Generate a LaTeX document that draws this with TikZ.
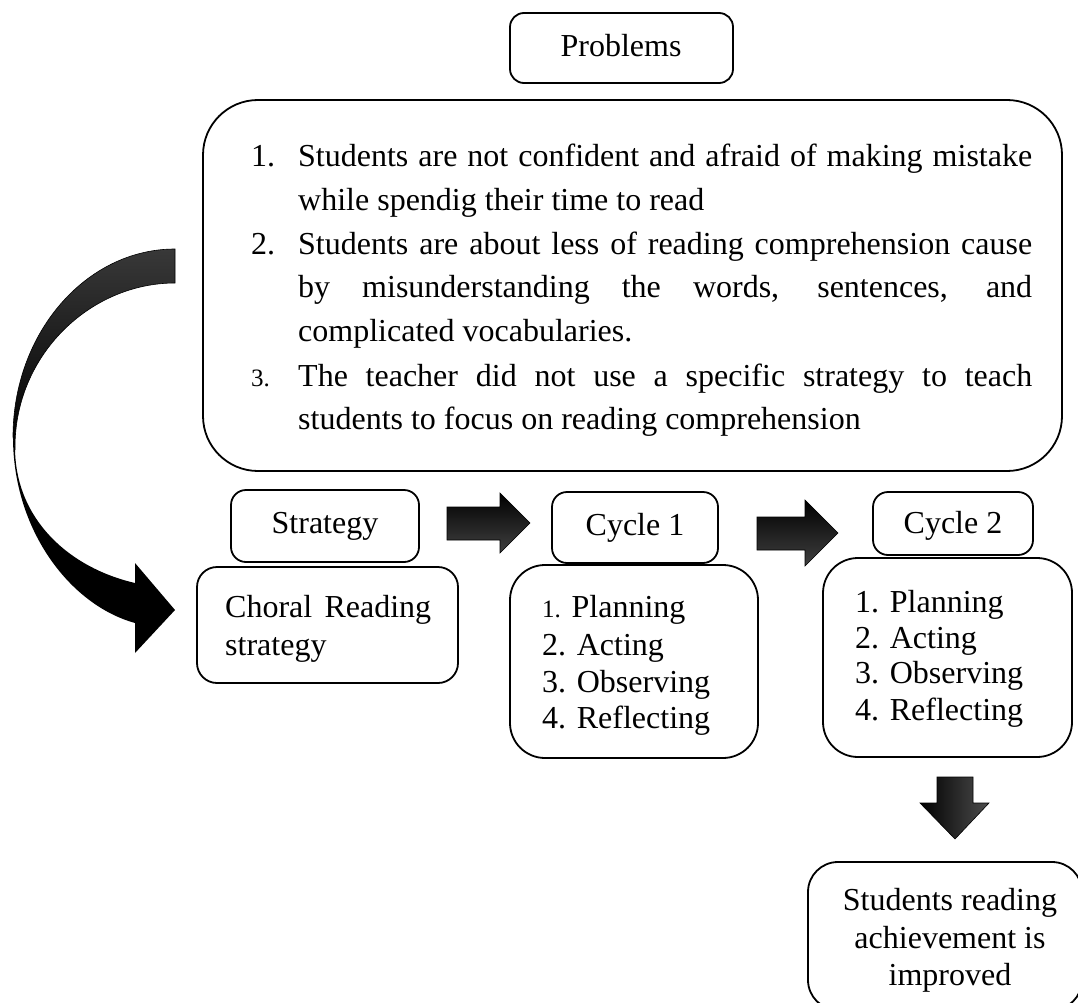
\documentclass[tikz,border=0pt]{standalone}
\usepackage{fontspec}
\setmainfont{Liberation Serif}
\begin{document}
\begin{tikzpicture}[x=1pt,y=-1pt,
  box/.style={draw, line width=1.8pt, rounded corners=#1, inner sep=0pt},
  box/.default=15pt,
  txt/.style={font=\fontsize{32}{38}\selectfont, inner sep=0pt},
  small/.style={font=\fontsize{25}{30}\selectfont, inner sep=0pt},
  blk/.style={draw=black, line width=0.6pt, top color=black, bottom color=black!75},
  blkd/.style={draw=black, line width=0.6pt, left color=black, right color=black!70}
]
\useasboundingbox (0,0) rectangle (1078,1003);

% ---------- boxes ----------
\node[box=14pt, minimum width=223pt, minimum height=70pt] (probbox) at (621.5,48) {};
\node[box=55pt, minimum width=859pt, minimum height=371pt] (bigbox) at (632.5,285.5) {};
\node[box=15pt, minimum width=188pt, minimum height=72pt] (stratbox) at (325,526) {};
\node[box=20pt, minimum width=261pt, minimum height=116pt] (choralbox) at (327.5,625) {};
\node[box=15pt, minimum width=166pt, minimum height=71pt] (cyc1box) at (635,527.5) {};
\node[box=35pt, minimum width=248pt, minimum height=193pt] (list1box) at (634,661.5) {};
\node[box=15pt, minimum width=160pt, minimum height=63pt] (cyc2box) at (953,523.5) {};
\node[box=35pt, minimum width=249pt, minimum height=199pt] (list2box) at (947.5,657.5) {};
\node[box=30pt, minimum width=274pt, minimum height=148pt] (finalbox) at (945,936) {};

% ---------- texts ----------
\node[txt, anchor=base] (probtxt) at (621,57) {Problems};

\node[txt, anchor=base west] (n1) at (251,167) {1.};
\node[txt, anchor=base west] (p1a) at (298,167) {\makebox[734pt][s]{Students are not confident and afraid of making mistake}};
\node[txt, anchor=base west] (p1b) at (298,210.5) {while spendig their time to read};
\node[txt, anchor=base west] (n2) at (251,254) {2.};
\node[txt, anchor=base west] (p2a) at (298,254) {\makebox[734pt][s]{Students are about less of reading comprehension cause}};
\node[txt, anchor=base west] (p2b) at (298,297.5) {\makebox[734pt][s]{by misunderstanding the words, sentences, and}};
\node[txt, anchor=base west] (p2c) at (298,341) {complicated vocabularies.};
\node[small, anchor=base west] (n3) at (251,386) {3.};
\node[txt, anchor=base west] (p3a) at (298,386) {\makebox[734pt][s]{The teacher did not use a specific strategy to teach}};
\node[txt, anchor=base west] (p3b) at (298,429) {students to focus on reading comprehension};

\node[txt, anchor=base] (strattxt) at (325,533) {Strategy};
\node[txt, anchor=base west] (chA) at (225,617) {\makebox[206pt][s]{Choral Reading}};
\node[txt, anchor=base west] (chB) at (225,655) {strategy};

\node[txt, anchor=base] (cyc1txt) at (635,535) {Cycle 1};
\node[txt, anchor=base west] (c1a) at (542,617) {{\fontsize{25}{30}\selectfont 1.} Planning};
\node[txt, anchor=base west] (c1b) at (542,655) {2. Acting};
\node[txt, anchor=base west] (c1c) at (542,692) {3. Observing};
\node[txt, anchor=base west] (c1d) at (542,728) {4. Reflecting};

\node[txt, anchor=base] (cyc2txt) at (953,533) {Cycle 2};
\node[txt, anchor=base west] (c2a) at (855,612) {1. Planning};
\node[txt, anchor=base west] (c2b) at (855,648) {2. Acting};
\node[txt, anchor=base west] (c2c) at (855,683) {3. Observing};
\node[txt, anchor=base west] (c2d) at (855,720) {4. Reflecting};

\node[txt, anchor=base] (f1) at (950,910) {Students reading};
\node[txt, anchor=base] (f2) at (950,948) {achievement is};
\node[txt, anchor=base] (f3) at (950,985) {improved};

% ---------- block arrows ----------
\shade[blk] (447,507) -- (500,507) -- (500,493) -- (530,523) -- (500,553) -- (500,540) -- (447,540) -- cycle;
\shade[blk] (757,517) -- (805,517) -- (805,500) -- (838,533) -- (805,566) -- (805,550) -- (757,550) -- cycle;
\shade[blkd] (937,777) -- (973,777) -- (973,803) -- (989,803) -- (955,839) -- (920,803) -- (937,803) -- cycle;

% ---------- curved arrow ----------
\shade[draw=black, line width=0.6pt, top color=black!78, bottom color=black]
  (175,249) .. controls (86,249) and (13,333) .. (13,437)
  -- (15,447) .. controls (15,355) and (90,283) .. (175,283) -- cycle;
\fill[black]
  (13,437) .. controls (13,530) and (70,605) .. (135,623)
  -- (135,653) -- (175,610) -- (135,563) -- (135,583)
  .. controls (70,568) and (15,520) .. (15,447) -- cycle;
\end{tikzpicture}
\end{document}
